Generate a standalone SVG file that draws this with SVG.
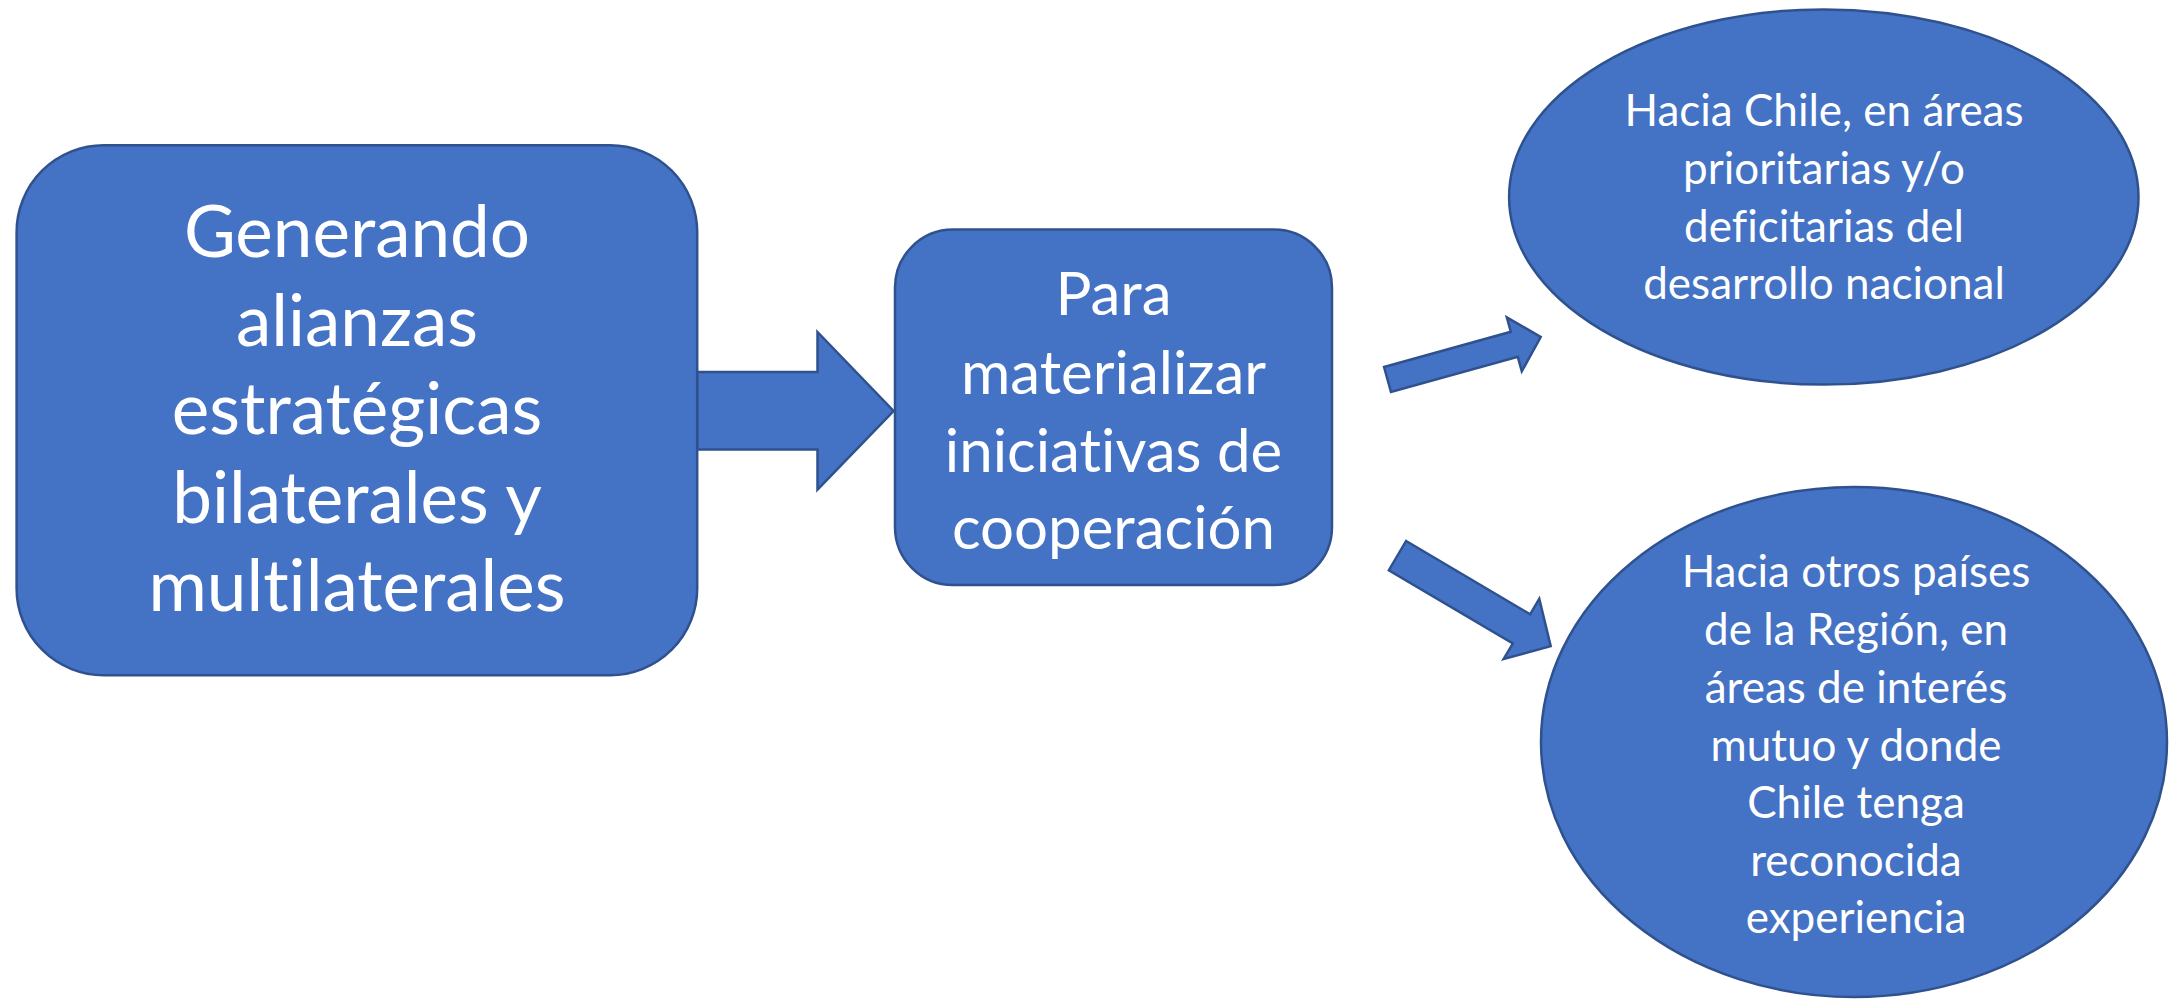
<svg xmlns="http://www.w3.org/2000/svg" width="2169" height="1000" viewBox="0 0 2169 1000">
<style>
.shape{fill:#4472C4;stroke:#2F528F;stroke-width:2.5}
.t{fill:#FFFFFF;font-family:Lato,"Open Sans","Liberation Sans",sans-serif;text-anchor:middle;font-variant-ligatures:none}
.big{font-size:71px}
.mid{font-size:60px}
.sm{font-size:44px}
</style>
<rect width="2169" height="1000" fill="#FFFFFF"/>
<g id="connectors">
<path id="arrow-main" class="shape" d="M697,372 L817.5,372 L817.5,332 L893.6,411 L817.5,489.7 L817.5,449.5 L697,449.5 Z"/>
<path id="arrow-up" class="shape" transform="translate(1387.5,379.5) rotate(-15.5)" d="M0,-13 L131.6,-13 L131.6,-28 L159,0 L131.6,28 L131.6,13 L0,13 Z"/>
<path id="arrow-down" class="shape" transform="translate(1397.5,555.6) rotate(30.6)" d="M0,-17 L144,-17 L144,-35 L178,0 L144,35 L144,17 L0,17 Z"/>
</g>
<g id="node-alianzas">
<rect class="shape" x="16.6" y="145.2" width="680.6" height="530" rx="87" ry="87"/>
<text class="t big" x="357" y="257">Generando</text>
<text class="t big" x="357" y="346">alianzas</text>
<text class="t big" x="357" y="434">estratégicas</text>
<text class="t big" x="357" y="523">bilaterales y</text>
<text class="t big" x="357" y="611">multilaterales</text>
</g>
<g id="node-materializar">
<rect class="shape" x="895" y="229.6" width="437" height="355.4" rx="58" ry="58"/>
<text class="t mid" x="1113.5" y="315">Para</text>
<text class="t mid" x="1113.5" y="394">materializar</text>
<text class="t mid" x="1113.5" y="472">iniciativas de</text>
<text class="t mid" x="1113.5" y="549">cooperación</text>
</g>
<g id="node-chile">
<ellipse class="shape" cx="1823.8" cy="197" rx="314.7" ry="187.6"/>
<text class="t sm" x="1824" y="126">Hacia Chile, en áreas</text>
<text class="t sm" x="1824" y="184">prioritarias y/o</text>
<text class="t sm" x="1824" y="242">deficitarias del</text>
<text class="t sm" x="1824" y="299">desarrollo nacional</text>
</g>
<g id="node-region">
<ellipse class="shape" cx="1854" cy="742" rx="313" ry="255"/>
<text class="t sm" x="1856" y="587">Hacia otros países</text>
<text class="t sm" x="1856" y="645">de la Región, en</text>
<text class="t sm" x="1856" y="703">áreas de interés</text>
<text class="t sm" x="1856" y="761">mutuo y donde</text>
<text class="t sm" x="1856" y="818">Chile tenga</text>
<text class="t sm" x="1856" y="876">reconocida</text>
<text class="t sm" x="1856" y="933">experiencia</text>
</g>
</svg>
